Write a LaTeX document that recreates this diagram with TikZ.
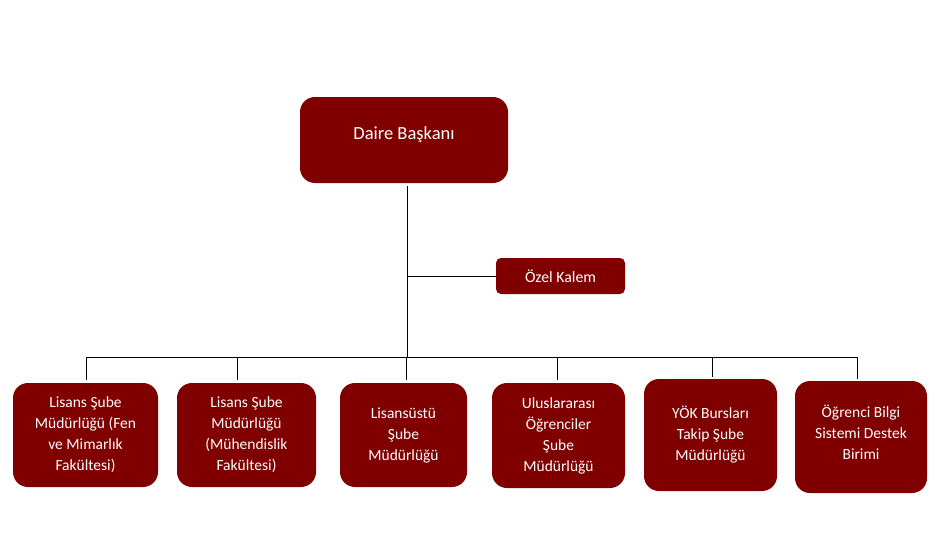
\documentclass[tikz,border=0pt]{standalone}
\usepackage{fontspec}
\setmainfont{Carlito}
\definecolor{boxred}{RGB}{128,0,0}
\tikzset{
  box/.style={draw=none, fill=boxred, text=white, rounded corners=15pt, align=center,
    inner sep=0pt, font=\fontsize{15.5}{21}\selectfont},
  lbl/.style={text=white, align=center, inner sep=0pt, font=\fontsize{15.5}{21}\selectfont},
  conn/.style={draw=black, line width=1pt},
}
\begin{document}
\begin{tikzpicture}[x=1pt,y=-1pt]
\useasboundingbox (0,0) rectangle (947,535);
\node[box, minimum width=208pt, minimum height=86pt] (top) at (404,140) {};
\node[lbl, font=\fontsize{18.5}{22}\selectfont] (toplbl) at (404,135) {Daire Başkanı};
\node[box, rounded corners=5pt, minimum width=129pt, minimum height=36pt, font=\fontsize{15.8}{19}\selectfont] (ozel) at (560.5,276) {Özel Kalem};

\node[box, minimum width=145pt, minimum height=104pt] (b1) at (85.5,435) {Lisans Şube\\Müdürlüğü (Fen\\ve Mimarlık\\Fakültesi)};
\node[box, minimum width=139pt, minimum height=104pt] (b2) at (246.5,435) {Lisans Şube\\Müdürlüğü\\(Mühendislik\\Fakültesi)};
\node[box, minimum width=127pt, minimum height=104pt] (b3) at (403.5,435) {Lisansüstü\\Şube\\Müdürlüğü};
\node[box, minimum width=133pt, minimum height=105pt] (b4) at (558.5,435.5) {Uluslararası\\Öğrenciler\\Şube\\Müdürlüğü};
\node[box, minimum width=133pt, minimum height=112pt] (b5) at (710.5,435) {YÖK Bursları\\Takip Şube\\Müdürlüğü};
\node[box, minimum width=132pt, minimum height=112pt] (b6) at (861,437) {};
\node[lbl] (b6lbl) at (861,432) {Öğrenci Bilgi\\Sistemi Destek\\Birimi};

\coordinate (hub) at (407,357);
\coordinate (d1) at (86,357);
\coordinate (d2) at (237,357);
\coordinate (d3) at (406,357);
\coordinate (d4) at (557,357);
\coordinate (d5) at (712,357);
\coordinate (d6) at (857,357);

\draw[conn, shorten <=3pt] (hub |- top.south) -- (hub);
\draw[conn] (ozel.west) -- (ozel.west -| hub);
\draw[conn] (d1) -- (d6);
\draw[conn, shorten >=3pt] (d1) -- (d1 |- b1.north);
\draw[conn, shorten >=3pt] (d2) -- (d2 |- b2.north);
\draw[conn, shorten >=3pt] (d3) -- (d3 |- b3.north);
\draw[conn, shorten >=3pt] (d4) -- (d4 |- b4.north);
\draw[conn, shorten >=2pt] (d5) -- (d5 |- b5.north);
\draw[conn, shorten >=2pt] (d6) -- (d6 |- b6.north);
\end{tikzpicture}
\end{document}
